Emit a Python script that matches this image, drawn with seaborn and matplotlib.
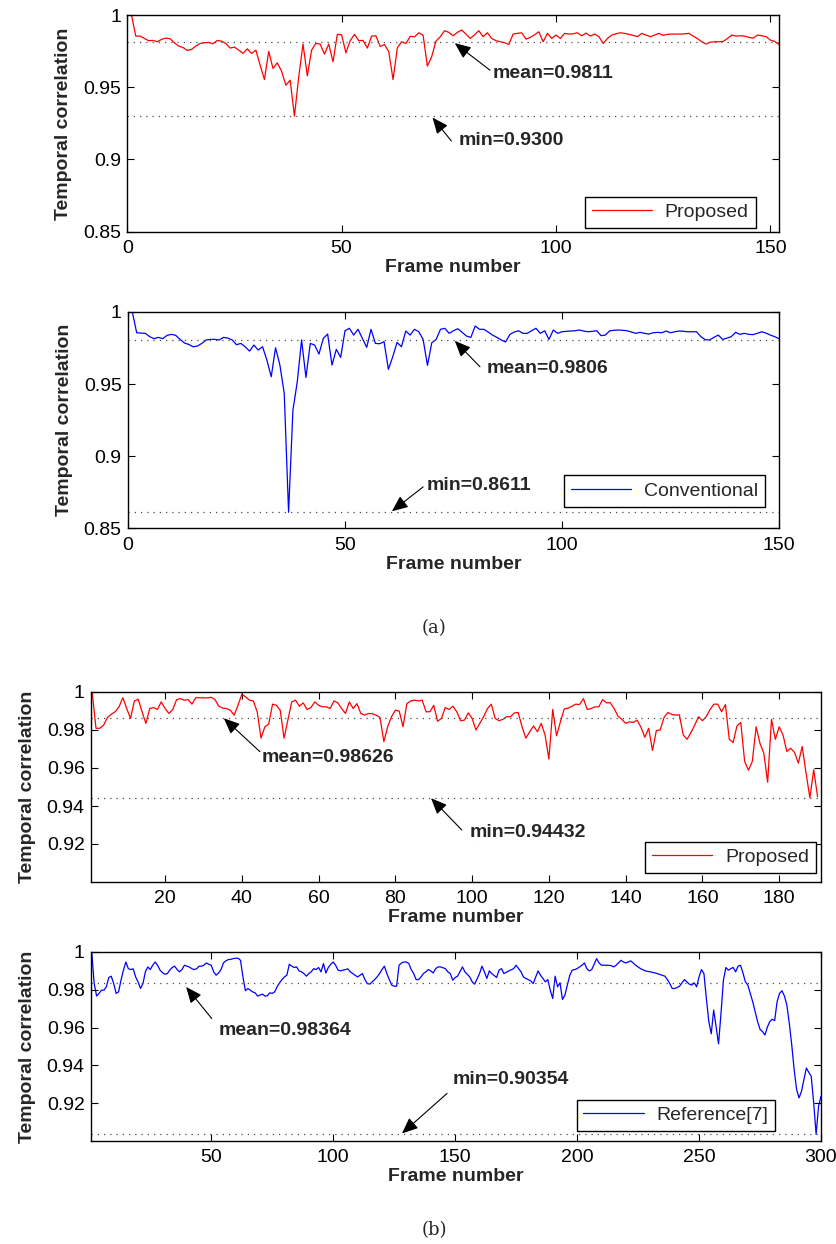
import matplotlib
matplotlib.use("Agg")
import matplotlib.pyplot as plt
import seaborn as sns

# temporal correlation per frame
prop_a = [1.0, 0.9854, 0.9854, 0.9838, 0.9822, 0.9824, 0.9815, 0.9831, 0.984, 0.9836,
          0.9808, 0.9785, 0.9775, 0.9755, 0.9762, 0.9785, 0.9803, 0.9808, 0.981, 0.9801,
          0.9824, 0.9819, 0.9803, 0.9771, 0.9778, 0.9757, 0.9734, 0.9766, 0.9734, 0.9757,
          0.9653, 0.9553, 0.9748, 0.963, 0.9669, 0.9611, 0.9514, 0.9549, 0.93, 0.9572,
          0.9799, 0.9579, 0.9757, 0.9803, 0.9799, 0.9729, 0.9799, 0.9676, 0.9866, 0.9863,
          0.9738, 0.9822, 0.9866, 0.9822, 0.9824, 0.9771, 0.9854, 0.9856, 0.9782, 0.9796,
          0.9745, 0.9553, 0.9773, 0.9815, 0.9803, 0.9852, 0.9849, 0.9877, 0.9861, 0.9646,
          0.9711, 0.9819, 0.9849, 0.9891, 0.988, 0.9856, 0.988, 0.9896, 0.9868, 0.9838,
          0.9863, 0.9891, 0.985, 0.9877, 0.9838, 0.9822, 0.9815, 0.9808, 0.9796, 0.9868,
          0.9873, 0.9877, 0.9833, 0.9845, 0.9863, 0.9884, 0.9815, 0.9873, 0.9838, 0.9861,
          0.9838, 0.9873, 0.9868, 0.987, 0.9877, 0.9856, 0.9875, 0.9854, 0.9868, 0.985,
          0.9803, 0.9838, 0.9861, 0.987, 0.9877, 0.9873, 0.9866, 0.9859, 0.985, 0.9873,
          0.9861, 0.985, 0.9861, 0.9873, 0.9859, 0.9866, 0.9868, 0.9868, 0.9868, 0.987,
          0.9873, 0.9854, 0.9836, 0.9815, 0.9799, 0.9812, 0.9815, 0.9815, 0.9817, 0.9838,
          0.9861, 0.9854, 0.9856, 0.9854, 0.9845, 0.984, 0.9861, 0.9856, 0.985, 0.9826,
          0.9817, 0.9796]

conv_a = [1.0, 0.9856, 0.9854, 0.9852, 0.9829, 0.9815, 0.9824, 0.9815, 0.9838, 0.9845,
          0.9838, 0.981, 0.9785, 0.9775, 0.9759, 0.9764, 0.9782, 0.9806, 0.981, 0.981,
          0.9806, 0.9824, 0.9819, 0.9806, 0.9773, 0.9782, 0.9759, 0.9729, 0.9771, 0.9736,
          0.9759, 0.9667, 0.9551, 0.9752, 0.9632, 0.9435, 0.8611, 0.9319, 0.9516, 0.9806,
          0.9546, 0.9782, 0.9771, 0.9708, 0.9817, 0.9847, 0.9632, 0.9741, 0.9685, 0.987,
          0.9887, 0.984, 0.988, 0.9817, 0.9755, 0.988, 0.9782, 0.978, 0.9794, 0.9602,
          0.969, 0.9789, 0.9759, 0.9868, 0.984, 0.988, 0.9863, 0.981, 0.963, 0.9787,
          0.981, 0.988, 0.9887, 0.9852, 0.987, 0.9884, 0.9859, 0.9833, 0.9824, 0.9903,
          0.988, 0.988, 0.9861, 0.984, 0.9824, 0.9806, 0.9792, 0.9845, 0.9861, 0.987,
          0.9852, 0.9852, 0.987, 0.9887, 0.9852, 0.987, 0.981, 0.9875, 0.9852, 0.9863,
          0.9866, 0.9868, 0.987, 0.9875, 0.9868, 0.9863, 0.9866, 0.987, 0.9836, 0.984,
          0.987, 0.9873, 0.9875, 0.9873, 0.987, 0.9861, 0.9852, 0.9859, 0.9852, 0.9847,
          0.9856, 0.9859, 0.9856, 0.9868, 0.9856, 0.9863, 0.9868, 0.9866, 0.9863, 0.9863,
          0.9863, 0.9829, 0.9808, 0.9806, 0.9824, 0.984, 0.981, 0.9819, 0.9829, 0.9859,
          0.9845, 0.9852, 0.9845, 0.9843, 0.9852, 0.9863, 0.9854, 0.984, 0.9829, 0.9815]

prop_b = [1.0, 0.9809, 0.9809, 0.9826, 0.9866, 0.9883, 0.9896, 0.9922, 0.997, 0.9913,
          0.9861, 0.9953, 0.9962, 0.9896, 0.9835, 0.9913, 0.9918, 0.9908, 0.9948, 0.9913,
          0.9887, 0.9908, 0.996, 0.9965, 0.9957, 0.996, 0.9936, 0.997, 0.997, 0.9969,
          0.9969, 0.9972, 0.996, 0.9925, 0.9915, 0.9913, 0.9904, 0.9878, 0.993, 0.9988,
          0.9974, 0.9957, 0.9953, 0.9896, 0.9757, 0.9817, 0.9831, 0.9936, 0.993, 0.9904,
          0.9757, 0.9852, 0.9948, 0.9957, 0.9925, 0.9943, 0.9908, 0.9918, 0.9948, 0.993,
          0.9922, 0.9922, 0.9913, 0.9953, 0.9943, 0.9913, 0.9887, 0.9948, 0.9913, 0.9939,
          0.9887, 0.9878, 0.9887, 0.9885, 0.9878, 0.9866, 0.9739, 0.9817, 0.987, 0.9904,
          0.99, 0.9817, 0.9939, 0.9953, 0.9957, 0.9953, 0.9957, 0.9896, 0.9896, 0.993,
          0.9846, 0.9861, 0.9918, 0.9908, 0.9925, 0.9896, 0.9849, 0.9852, 0.989, 0.9861,
          0.98, 0.9835, 0.987, 0.9913, 0.9936, 0.9861, 0.9849, 0.9856, 0.987, 0.987,
          0.989, 0.9892, 0.9817, 0.9757, 0.9791, 0.9821, 0.9791, 0.9835, 0.9774, 0.9647,
          0.9908, 0.9769, 0.9843, 0.9911, 0.9915, 0.9925, 0.9936, 0.9934, 0.9965, 0.9908,
          0.9913, 0.9922, 0.9922, 0.996, 0.9943, 0.9944, 0.9913, 0.9873, 0.9856, 0.9835,
          0.9843, 0.984, 0.9852, 0.9814, 0.9762, 0.9809, 0.9692, 0.9797, 0.98, 0.9866,
          0.9892, 0.9882, 0.9878, 0.988, 0.9774, 0.9751, 0.9786, 0.9826, 0.987, 0.9849,
          0.987, 0.9908, 0.9936, 0.9936, 0.9896, 0.9934, 0.9751, 0.9734, 0.9821, 0.984,
          0.9635, 0.9588, 0.9635, 0.9817, 0.973, 0.9678, 0.9525, 0.9856, 0.9751, 0.9817,
          0.9774, 0.9687, 0.9704, 0.9682, 0.9626, 0.9713, 0.9574, 0.94432, 0.9591, 0.945]

# reference[7]: every frame up to 143, then the visible vertices
ref_frames = (list(range(1, 144))
              + [144, 146, 147, 148, 149, 150, 151, 153, 154, 156, 157, 158,
                 160, 161, 162, 163, 164, 165, 167, 168, 169, 170, 172, 174, 175,
                 177, 178, 179, 181, 182]
              + list(range(184, 211))
              + [212, 214, 215, 216, 218, 219, 220, 222, 223, 224,
                 226, 228, 230, 232, 234]
              + list(range(236, 301)))
ref_b = [1.0, 0.9833, 0.9767, 0.9781, 0.9798, 0.9798, 0.9816, 0.9865, 0.9872, 0.9833,
         0.9781, 0.9789, 0.9851, 0.9904, 0.9947, 0.9912, 0.9907, 0.9911, 0.9868, 0.9842,
         0.9807, 0.9833, 0.9895, 0.9921, 0.9907, 0.993, 0.9947, 0.993, 0.9904, 0.9891,
         0.9882, 0.9886, 0.9904, 0.9918, 0.9925, 0.9907, 0.9895, 0.9907, 0.993, 0.9925,
         0.9921, 0.9912, 0.9907, 0.9911, 0.9925, 0.9925, 0.993, 0.9942, 0.9935, 0.993,
         0.9895, 0.9877, 0.9889, 0.9907, 0.9942, 0.9953, 0.996, 0.9961, 0.9965, 0.9967,
         0.9967, 0.9956, 0.9868, 0.9795, 0.9807, 0.9798, 0.9789, 0.9784, 0.9767, 0.9772,
         0.9777, 0.9767, 0.9768, 0.9784, 0.9781, 0.9789, 0.9816, 0.9837, 0.9854, 0.9868,
         0.9877, 0.9935, 0.9925, 0.9918, 0.9921, 0.99, 0.9895, 0.9886, 0.9872, 0.9886,
         0.9895, 0.9912, 0.9907, 0.9918, 0.9895, 0.9939, 0.9889, 0.9918, 0.9935, 0.9947,
         0.993, 0.9904, 0.99, 0.9904, 0.9907, 0.9911, 0.9895, 0.9886, 0.9877, 0.9868,
         0.9877, 0.9886, 0.9854, 0.9833, 0.983, 0.9842, 0.9854, 0.9868, 0.9886, 0.9907,
         0.9925, 0.9886, 0.9854, 0.9825, 0.9819, 0.9819, 0.993, 0.9942, 0.9947, 0.9947,
         0.9939, 0.9907, 0.9886, 0.9854, 0.9854, 0.9868, 0.9886, 0.9895, 0.9907, 0.99,
         0.9889, 0.9912, 0.9921,
         0.9921, 0.9912, 0.9895, 0.9886, 0.9851, 0.9865, 0.9872, 0.9921, 0.9895, 0.9868,
         0.9842, 0.983, 0.9886, 0.9925, 0.9895, 0.986, 0.99, 0.9886, 0.9865, 0.9904,
         0.9912, 0.9886, 0.99, 0.9912, 0.993, 0.9895, 0.9868, 0.986, 0.9847, 0.9833,
         0.99, 0.9877, 0.986, 0.9842, 0.9854, 0.9798, 0.9754, 0.9872, 0.9816, 0.9837,
         0.9749, 0.9772, 0.9825, 0.9877, 0.9904, 0.9907, 0.9912, 0.9921, 0.993, 0.9942,
         0.9912, 0.99, 0.9907, 0.9935, 0.9965, 0.9942, 0.993,
         0.993, 0.9928, 0.9921, 0.993, 0.9956, 0.9947, 0.9942, 0.9953, 0.9942, 0.993,
         0.9912, 0.99, 0.9895, 0.9889, 0.9881,
         0.9872, 0.9854, 0.9833, 0.9807, 0.9807, 0.9812, 0.9819, 0.9837, 0.9854, 0.9842,
         0.983, 0.9825, 0.9837, 0.9816,
         0.9868, 0.9907, 0.9886, 0.9754, 0.9632, 0.9567, 0.9693, 0.9602, 0.9514, 0.9676,
         0.9851, 0.9918, 0.9904, 0.9912, 0.9918, 0.9895, 0.9925, 0.993, 0.9889, 0.9842,
         0.9825, 0.9781, 0.9737, 0.9684, 0.9632, 0.9591, 0.9579, 0.9561, 0.9602, 0.9632,
         0.9644, 0.9637, 0.9737, 0.9781, 0.9795, 0.9767, 0.9719, 0.9623, 0.9509, 0.9377,
         0.9272, 0.9228, 0.9263, 0.9325, 0.9386, 0.9363, 0.9342, 0.9202, 0.90354, 0.9184,
         0.9237]

series = [prop_a, conv_a, prop_b, ref_b]
frames = [list(range(1, 153)), list(range(1, 151)), list(range(1, 191)), ref_frames]
legend_labels = ["Proposed", "Conventional", "Proposed", "Reference[7]"]
mean_vals = [0.9811, 0.9806, 0.98626, 0.98364]
min_vals = [0.9300, 0.8611, 0.94432, 0.90354]
decimals = [4, 4, 5, 5]

# layout (pixels of the 837x1244 canvas) and styling per panel
W, H = 837, 1244
panels = [
    dict(box=(127.2, 15, 779, 231.7), xlim=(0, 152), ylim=(0.85, 1.0),
         xticks=[0, 50, 100, 150], yticks=[0.85, 0.9, 0.95, 1.0],
         ytl=["0.85", "0.9", "0.95", "1"], color="#ff0000", leg=(0.964, 0.018),
         mean_ann=((76.4, 0.9805), (84.6, 0.9618), (85.3, 0.9597)),
         min_ann=((71.2, 0.9290), (75.6, 0.9128), (77.4, 0.9132))),
    dict(box=(128, 312, 779, 528.3), xlim=(0, 150), ylim=(0.85, 1.0),
         xticks=[0, 50, 100, 150], yticks=[0.85, 0.9, 0.95, 1.0],
         ytl=["0.85", "0.9", "0.95", "1"], color="#0000ff", leg=(0.9785, 0.10),
         mean_ann=((75.3, 0.9800), (81.1, 0.962), (82.6, 0.9611)),
         min_ann=((60.8, 0.8618), (68.0, 0.8787), (68.7, 0.8799))),
    dict(box=(91, 692, 821, 882), xlim=(0.7, 190.9), ylim=(0.9, 1.0),
         xticks=[20, 40, 60, 80, 100, 120, 140, 160, 180],
         yticks=[0.92, 0.94, 0.96, 0.98, 1.0],
         ytl=["0.92", "0.94", "0.96", "0.98", "1"], color="#ff0000", leg=(0.993, 0.047),
         mean_ann=((35.3, 0.9862), (44.7, 0.9686), (45.2, 0.9656)),
         min_ann=((89.3, 0.9441), (97.3, 0.9274), (99.4, 0.9258))),
    dict(box=(91, 952, 821, 1141), xlim=(0.7, 300), ylim=(0.9, 1.0),
         xticks=[50, 100, 150, 200, 250, 300],
         yticks=[0.92, 0.94, 0.96, 0.98, 1.0],
         ytl=["0.92", "0.94", "0.96", "0.98", "1"], color="#0000ff", leg=(0.937, 0.053),
         mean_ann=((39.7, 0.9815), (50.2, 0.9648), (52.9, 0.9587)),
         min_ann=((128.2, 0.9040), (146.7, 0.9252), (148.8, 0.9323))),
]

sns.set_theme(style="ticks")
plt.rcParams["font.family"] = ["Liberation Sans", "DejaVu Sans"]
plt.rcParams["axes.edgecolor"] = "black"
plt.rcParams["xtick.color"] = "black"
plt.rcParams["ytick.color"] = "black"

fig = plt.figure(figsize=(W / 100, H / 100), dpi=100)

arrow = dict(arrowstyle="-|>,head_length=0.7,head_width=0.3", color="black",
             lw=0.8, shrinkA=0, shrinkB=0, mutation_scale=14)

for i, p in enumerate(panels):
    l, t, r, b = p["box"]
    ax = fig.add_axes([l / W, 1 - b / H, (r - l) / W, (b - t) / H])

    sns.lineplot(x=frames[i], y=series[i], ax=ax, color=p["color"], lw=0.9,
                 label=legend_labels[i])

    ax.axhline(mean_vals[i], color="0.3", lw=0.9, ls=(0, (1, 4)))
    ax.axhline(min_vals[i], color="0.3", lw=0.9, ls=(0, (1, 4)))

    ax.set_xlim(*p["xlim"])
    ax.set_ylim(*p["ylim"])
    ax.set_xticks(p["xticks"])
    ax.set_xticklabels([str(v) for v in p["xticks"]])
    ax.set_yticks(p["yticks"])
    ax.set_yticklabels(p["ytl"])
    ax.tick_params(direction="in", length=5, width=0.8, top=True, right=True,
                   labelsize=14)
    ax.tick_params(axis="x", pad=6)
    ax.tick_params(axis="y", pad=4.5)
    for s in ax.spines.values():
        s.set_linewidth(1.0)
        s.set_color("black")

    ax.set_xlabel("Frame number", fontsize=14, fontweight="bold", labelpad=1.5)
    ax.set_ylabel("Temporal correlation", fontsize=14, fontweight="bold", labelpad=8)

    # mean / min call-outs
    tip, tail, txt = p["mean_ann"]
    ax.annotate("", xy=tip, xytext=tail, arrowprops=arrow)
    ax.text(txt[0], txt[1], f"mean={mean_vals[i]:.{decimals[i]}f}", fontsize=14,
            fontweight="bold", ha="left", va="center")
    tip, tail, txt = p["min_ann"]
    ax.annotate("", xy=tip, xytext=tail, arrowprops=arrow)
    ax.text(txt[0], txt[1], f"min={min_vals[i]:.{decimals[i]}f}", fontsize=14,
            fontweight="bold", ha="left", va="center")

    leg = ax.legend(loc="lower right", bbox_to_anchor=p["leg"], borderaxespad=0,
                    fontsize=14, fancybox=False, framealpha=1, edgecolor="black",
                    handlelength=3.1, handletextpad=0.65, borderpad=0.35)
    leg.get_frame().set_linewidth(1.0)

fig.text(434 / W, 1 - 628 / H, "(a)", family="DejaVu Serif", fontsize=13,
         ha="center", va="center")
fig.text(434 / W, 1 - 1230 / H, "(b)", family="DejaVu Serif", fontsize=13,
         ha="center", va="center")

fig.savefig("out.png", dpi=100)
